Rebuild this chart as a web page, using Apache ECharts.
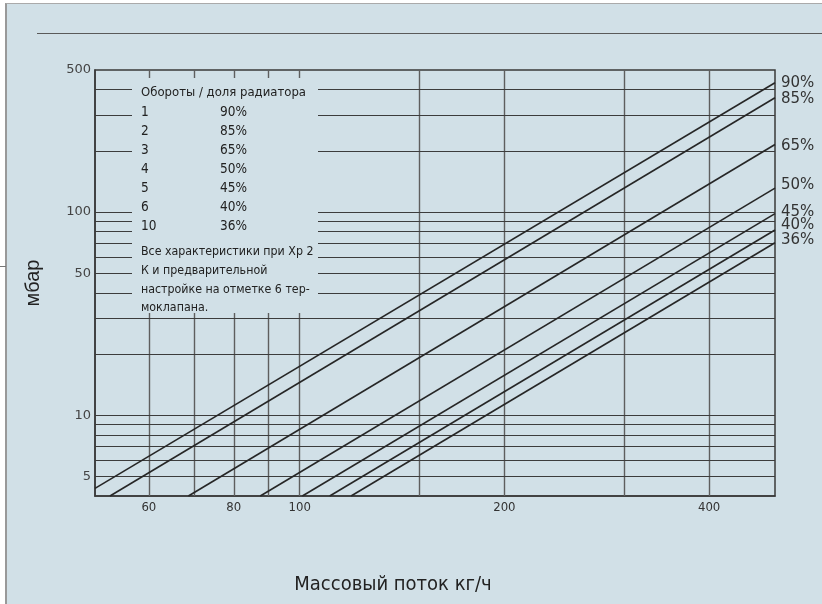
<!DOCTYPE html>
<html>
<head>
<meta charset="utf-8">
<script src="https://cdn.jsdelivr.net/npm/echarts@6/dist/echarts.min.js"></script>
<style>
  html, body { margin: 0; padding: 0; background: #fff; }
  #wrap { position: relative; width: 822px; height: 604px; overflow: hidden; background: #fff; }
  #bg { position: absolute; left: 5px; top: 3px; width: 817px; height: 601px; background: #d1e0e7;
        border-left: 2px solid #999; border-top: 1px solid #aaa; box-sizing: border-box; }
  #rule { position: absolute; left: 37px; top: 33px; width: 785px; height: 0; border-top: 1px solid #5a5a5a; }
  #nub { position: absolute; left: 0; top: 266px; width: 6px; height: 0; border-top: 1px solid #777; }
  #chart { position: absolute; left: 0; top: 0; width: 822px; height: 604px; }
</style>
</head>
<body>
<div id="wrap">
  <div id="bg"></div>
  <div id="rule"></div>
  <div id="nub"></div>
  <div id="chart"></div>
</div>
<script>
// ---- data ----
const seriesNames = ['90%', '85%', '65%', '50%', '45%', '40%', '36%'];
const startFlow = [50, 52.6, 68.6, 87.5, 100.9, 110.7, 119];
const startDp   = [4.36, 4, 4, 4, 4, 4, 4];
const endFlow   = [500, 500, 500, 500, 500, 500, 500];
const endDp     = [433, 365, 215, 131, 98.2, 81.6, 70.6];

const xTickLabels = [60, 80, 100, 200, 400];
const yTickLabels = [5, 10, 50, 100, 500];
const xGridValues = [60, 70, 80, 90, 100, 150, 200, 300, 400];
const yGridValues = [5, 6, 7, 8, 9, 10, 20, 30, 40, 50, 60, 70, 80, 90, 100, 200, 300, 400];

const legendTurns = ['1', '2', '3', '4', '5', '6', '10'];
const legendShares = ['90%', '85%', '65%', '50%', '45%', '40%', '36%'];
const legendTitle = 'Обороты / доля радиатора';
const noteLines = ['Все характеристики при Xp 2', 'К и предварительной', 'настройке на отметке 6 тер-', 'моклапана.'];

const xName = 'Массовый поток кг/ч';
const yName = 'мбар';

// ---- styles / layout ----
const endLabelDy = [0, 1, 2, -3, -1, -5, -3];
const narrow = '"Liberation Sans Narrow", "DejaVu Sans Condensed", "Liberation Sans", sans-serif';
const gothic = '"DejaVu Sans", "Liberation Sans", sans-serif';

const chart = echarts.init(document.getElementById('chart'), null, { renderer: 'canvas' });

const gridSeries = {
  type: 'line',
  data: [],
  silent: true,
  z: 2,
  markLine: {
    silent: true,
    symbol: ['none', 'none'],
    animation: false,
    label: { show: false },
    data: [
      ...xGridValues.map(v => ({ xAxis: v, lineStyle: { color: '#5e5e5e', width: 1.4, type: 'solid' } })),
      ...yGridValues.map(v => ({ yAxis: v, lineStyle: { color: '#3c3c3c', width: 1.2, type: 'solid' } }))
    ]
  }
};

const lineSeries = seriesNames.map((name, i) => ({
  type: 'line',
  name: name,
  z: 20,
  showSymbol: false,
  symbol: 'none',
  silent: true,
  lineStyle: { color: '#262626', width: 1.6 },
  data: [[startFlow[i], startDp[i]], [endFlow[i], endDp[i]]],
  endLabel: {
    show: true,
    formatter: name,
    color: '#333',
    fontSize: 15,
    fontFamily: gothic,
    distance: 6,
    offset: [0, endLabelDy[i]]
  }
}));

const rowY0 = 112, rowStep = 19;
const fRow = '13.5px ' + narrow;
const fNote = '12.3px ' + narrow;
const graphics = [
  { type: 'rect', z: 10, shape: { x: 132, y: 78, width: 186, height: 235 }, style: { fill: '#d1e0e7' }, silent: true },
  { type: 'text', z: 11, x: 141, y: 93, style: { text: legendTitle, font: '13px ' + narrow, fill: '#222', verticalAlign: 'middle' } },
  ...legendTurns.map((t, i) => ({ type: 'text', z: 11, x: 141, y: rowY0 + i * rowStep,
      style: { text: t, font: fRow, fill: '#222', verticalAlign: 'middle' } })),
  ...legendShares.map((s, i) => ({ type: 'text', z: 11, x: 220, y: rowY0 + i * rowStep,
      style: { text: s, font: fRow, fill: '#222', verticalAlign: 'middle' } })),
  ...noteLines.map((s, i) => ({ type: 'text', z: 11, x: 141, y: 252 + i * 18.7,
      style: { text: s, font: fNote, fill: '#222', verticalAlign: 'middle' } }))
];

chart.setOption({
  animation: false,
  backgroundColor: 'transparent',
  grid: { left: 95, right: 47, top: 70, bottom: 108, show: true, borderColor: '#3a3a3a', borderWidth: 1.5, backgroundColor: 'transparent' },
  xAxis: {
    type: 'log', logBase: 10, min: 50, max: 500,
    name: xName, nameLocation: 'middle', nameGap: 79,
    nameTextStyle: { fontSize: 20, fontFamily: narrow, color: '#222', padding: [0, 84, 0, 0] },
    axisLine: { show: true, lineStyle: { color: '#3a3a3a', width: 1.5 } },
    axisTick: { show: false },
    splitLine: { show: false },
    minorSplitLine: { show: false },
    axisLabel: { customValues: xTickLabels, fontSize: 13, fontFamily: narrow, color: '#333', margin: 5 }
  },
  yAxis: {
    type: 'log', logBase: 10, min: 4, max: 500,
    name: yName, nameLocation: 'middle', nameGap: 52, nameRotate: 90,
    nameTextStyle: { fontSize: 20, fontFamily: '"Liberation Sans", sans-serif', color: '#222' },
    axisLine: { show: true, lineStyle: { color: '#3a3a3a', width: 1.5 } },
    axisTick: { show: false },
    splitLine: { show: false },
    axisLabel: { customValues: yTickLabels, fontSize: 13, fontFamily: gothic, color: '#444', margin: 4 }
  },
  series: [gridSeries, ...lineSeries],
  graphic: graphics
});
</script>
</body>
</html>
